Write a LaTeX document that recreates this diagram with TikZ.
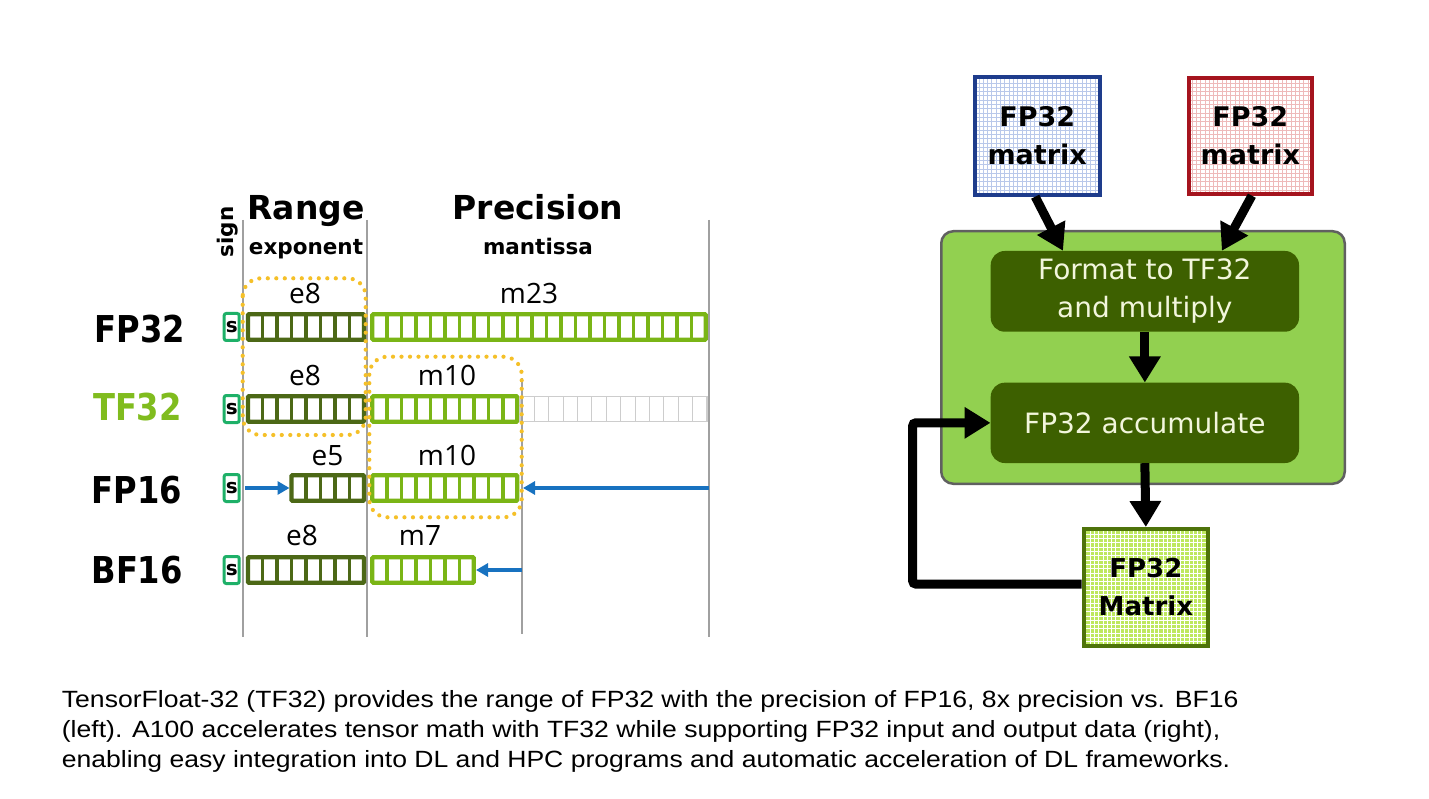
\documentclass[tikz,border=0pt]{standalone}
\usepackage{fontspec}
\usepackage{graphicx}
\setmainfont{DejaVu Sans}
\newfontfamily\capfont{Liberation Sans}
\newfontfamily\lblfont{Open Sans}
\usetikzlibrary{arrows.meta,calc}

\definecolor{expgreen}{RGB}{76,104,22}
\definecolor{mangreen}{RGB}{122,181,22}
\definecolor{sgreen}{RGB}{30,176,104}
\definecolor{cellgrey}{RGB}{205,205,205}
\definecolor{axisgrey}{RGB}{160,160,160}
\definecolor{dotyellow}{RGB}{245,192,40}
\definecolor{arrowblue}{RGB}{24,114,192}
\definecolor{tfgreen}{RGB}{128,188,30}
\definecolor{outerfill}{RGB}{146,208,80}
\definecolor{outerline}{RGB}{96,96,96}
\definecolor{darkbox}{RGB}{61,96,0}
\definecolor{cream}{RGB}{242,246,220}
\definecolor{bluebd}{RGB}{30,60,140}
\definecolor{bluegrid}{RGB}{185,200,234}
\definecolor{redbd}{RGB}{165,20,30}
\definecolor{redgrid}{RGB}{238,186,186}
\definecolor{matbd}{RGB}{78,115,10}
\definecolor{matfill}{RGB}{190,232,95}

\newcommand{\cellbar}[4]{%
  \pgfmathsetmacro{\xe}{#1+#3*14.5}%
  \pgfmathtruncatemacro{\nm}{#3-1}%
  \draw[#4, line width=4.2pt, rounded corners=1pt] (#1,{#2-12.8}) rectangle (\xe,{#2+12.8});
  \foreach \k in {1,...,\nm}{\draw[#4, line width=3.6pt] ({#1+\k*14.5},{#2-12.8}) -- ({#1+\k*14.5},{#2+12.8});}
}
\newcommand{\rowtxt}[1]{\scalebox{0.87}[1]{#1}}

\begin{document}
\begin{tikzpicture}[x=1pt,y=-1pt,
  sbox/.style={draw=sgreen, line width=3pt, rounded corners=2pt, minimum width=15pt,
     minimum height=27pt, inner sep=0pt, font=\bfseries\fontsize{20}{20}\selectfont},
  axis/.style={axisgrey, line width=1.4pt},
  dotbox/.style={dotyellow, line width=4.2pt, line cap=round, dash pattern=on 0pt off 8.5pt, rounded corners=18pt},
  barr/.style={arrowblue, line width=3.6pt, -{Triangle[width=13pt,length=12pt]}},
  hdr/.style={anchor=base, inner sep=0pt, font=\bfseries\fontsize{33}{33}\selectfont},
  sub/.style={anchor=base, inner sep=0pt, font=\bfseries\fontsize{21.5}{21.5}\selectfont},
  lbl/.style={anchor=base, inner sep=0pt, font=\lblfont\fontsize{28}{28}\selectfont},
  rowlbl/.style={anchor=base east, inner sep=0pt, font=\bfseries\fontsize{37}{37}\selectfont},
  gridpic/.style={path picture={\draw[#1, line width=0.9pt] ([shift={(-2,-2)}]path picture bounding box.south west) grid[step=4.3pt] ([shift={(2,2)}]path picture bounding box.north east);}},
  matbox/.style={line width=4pt, align=center, inner sep=0pt, font=\bfseries\fontsize{27}{38}\selectfont},
  inbox/.style={fill=darkbox, rounded corners=14pt, text=cream, align=center, inner sep=0pt,
     minimum width=308.3pt, font=\fontsize{28}{38}\selectfont},
  barrow/.style={line width=9pt, -{Triangle[width=30pt,length=26pt]}},
  captxt/.style={anchor=base west, inner sep=0pt}
]
\useasboundingbox (0,0) rectangle (1429,799);
\fill[white] (0,0) rectangle (1429,799);

% ---------------- left: formats ----------------
\draw[axis] (243,220) -- (243,637);
\draw[axis] (367,220) -- (367,637);
\draw[axis] (522,378) -- (522,634);
\draw[axis] (709,220) -- (709,637);

\node[hdr] (range) at (306,220) {Range};
\node[hdr] (prec) at (538,220) {Precision};
\node[sub] (expo) at (306,255) {exponent};
\node[sub] (mant) at (538,255) {mantissa};
\node[rotate=90, inner sep=0pt, font=\bfseries\fontsize{21.5}{21.5}\selectfont] (sign) at (228,232) {sign};

\node[rowlbl] (lfp32) at (185,343) {\rowtxt{FP32}};
\node[rowlbl, text=tfgreen] (ltf32) at (182,420) {\rowtxt{TF32}};
\node[rowlbl] (lfp16) at (182,503) {\rowtxt{FP16}};
\node[rowlbl] (lbf16) at (183,583) {\rowtxt{BF16}};

% FP32
\node[sbox] (s1) at (231.7,327) {s};
\cellbar{248}{327}{8}{expgreen}
\cellbar{372.3}{327}{23}{mangreen}
\node[lbl] (e1) at (305,304) {e8};
\node[lbl] (m1) at (529,304) {m23};

% TF32
\node[sbox] (s2) at (231.7,409) {s};
\cellbar{248}{409}{8}{expgreen}
\cellbar{372.3}{409}{10}{mangreen}
\draw[cellgrey, line width=1.3pt] (520,396.5) rectangle (707,421.5);
\foreach \k in {1,...,12}{\draw[cellgrey, line width=1pt] ({520+\k*14.38},396.5) -- ({520+\k*14.38},421.5);}
\node[lbl] (e2) at (305,385) {e8};
\node[lbl] (m2) at (447,385) {m10};

% FP16
\node[sbox] (s3) at (231.7,488) {s};
\cellbar{291.5}{488}{5}{expgreen}
\cellbar{372.3}{488}{10}{mangreen}
\node[lbl] (e3) at (327.5,465) {e5};
\node[lbl] (m3) at (447,465) {m10};
\coordinate (a1s) at (245,488);
\coordinate (a1e) at (289.5,488);
\coordinate (a2s) at (709,488);
\coordinate (a2e) at (523,488);
\draw[barr] (a1s) -- (a1e);
\draw[barr] (a2s) -- (a2e);

% BF16
\node[sbox] (s4) at (231.7,570) {s};
\cellbar{248}{570}{8}{expgreen}
\cellbar{372.3}{570}{7}{mangreen}
\node[lbl] (e4) at (302,545) {e8};
\node[lbl] (m4) at (420,545) {m7};
\coordinate (a3s) at (522,570);
\coordinate (a3e) at (476,570);
\draw[barr] (a3s) -- (a3e);

% yellow dotted frames
\draw[dotbox] (242.7,278.3) rectangle (365.7,435);
\draw[dotbox] (369.3,356.7) rectangle (521.7,517.3);

% ---------------- right: data flow ----------------
\node[draw=outerline, fill=outerfill, line width=2.5pt, rounded corners=12pt,
      minimum width=403.5pt, minimum height=252.5pt] (big) at (1143,357.5) {};
\node[inbox, minimum height=80.7pt] (fmt) at (1144.85,291.35) {Format to TF32\\and multiply};
\node[inbox, minimum height=80.3pt] (acc) at (1144.85,422.85) {FP32 accumulate};

\node[matbox, draw=bluebd, fill=white, gridpic=bluegrid, minimum width=125pt, minimum height=117.7pt]
   (mA) at (1037.2,135.85) {FP32\\matrix};
\node[matbox, draw=redbd, fill=white, gridpic=redgrid, minimum width=123.3pt, minimum height=115.7pt]
   (mB) at (1250.35,135.85) {FP32\\matrix};
\node[matbox, draw=matbd, fill=matfill, gridpic=white, minimum width=124.3pt, minimum height=117pt,
      font=\bfseries\fontsize{26}{38}\selectfont]
   (mC) at (1145.85,587.5) {FP32\\Matrix};

\draw[barrow] ([xshift=-2pt]mA.south) -- ([xshift=-81.85pt]fmt.north);
\draw[barrow] ([xshift=1.5pt]mB.south) -- ([xshift=77pt]fmt.north);
\draw[barrow] (fmt.south) -- (acc.north);
\draw[barrow] (acc.south) -- (mC.north);
\draw[barrow, rounded corners=3pt] ([yshift=3.5pt]mC.west) -- ++(-169,0) |- (acc.west);

% ---------------- caption ----------------
\node[captxt] (c1) at (61.7,707.3) {\resizebox{1176.6pt}{\height}{\capfont\fontsize{23.5}{30}\selectfont TensorFloat-32 (TF32) provides the range of FP32 with the precision of FP16, 8x precision vs. BF16}};
\node[captxt] (c2) at (61.7,737.3) {\resizebox{1158.3pt}{\height}{\capfont\fontsize{23.5}{30}\selectfont (left). A100 accelerates tensor math with TF32 while supporting FP32 input and output data (right),}};
\node[captxt] (c3) at (61.7,767.3) {\resizebox{1168.3pt}{\height}{\capfont\fontsize{23.5}{30}\selectfont enabling easy integration into DL and HPC programs and automatic acceleration of DL frameworks.}};
\end{tikzpicture}
\end{document}
